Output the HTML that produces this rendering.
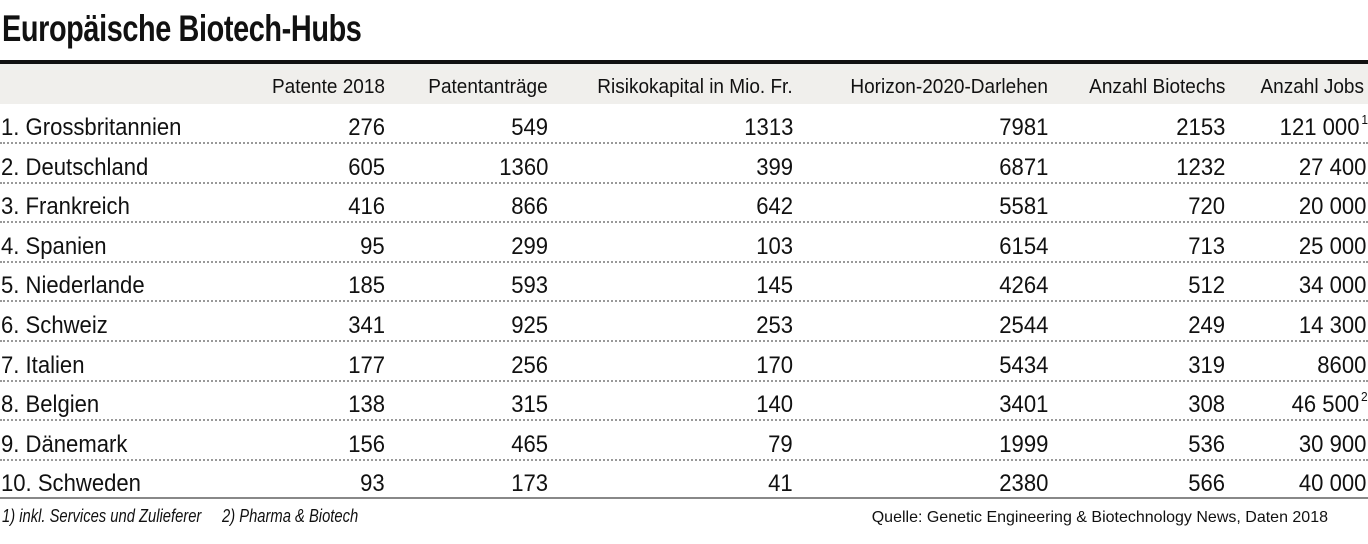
<!DOCTYPE html>
<html><head><meta charset="utf-8"><style>
body{margin:0;width:1368px;height:544px;background:#fff;font-family:"Liberation Sans",sans-serif;color:#111;position:relative;overflow:hidden}
.t{position:absolute;left:2px;top:8px;font-size:37px;font-weight:bold;transform:scaleX(0.78);transform-origin:left top;letter-spacing:-0.5px}
.bar{position:absolute;left:0;top:60px;width:1368px;height:4px;background:#111}
.hd{position:absolute;left:0;top:64px;width:1368px;height:40px;background:#f0efec}
.c{position:absolute;white-space:nowrap}
.h{font-size:20px;top:76px;transform:scaleX(0.95);transform-origin:right top}
.r{font-size:24px;transform:scaleX(0.92)}
.l{transform-origin:left top}
.rt{transform-origin:right top}
.dot{position:absolute;left:0;width:1368px;border-top:2px dotted #999}
.sol{position:absolute;left:0;top:497px;width:1368px;border-top:2px solid #888}
.fn{position:absolute;top:506px;font-size:18px;font-style:italic;transform:scaleX(0.82);transform-origin:left top}
.src{position:absolute;top:509px;right:40px;font-size:16px}
sup{font-size:13px;vertical-align:top;position:relative;top:-2px;margin-left:2px}
</style></head><body>
<div class="t">Europäische Biotech-Hubs</div>
<div class="bar"></div><div class="hd"></div>
<div id="g"></div>
<div class="sol"></div>
<div class="fn" style="left:2px">1) inkl. Services und Zulieferer</div>
<div class="fn" style="left:222px">2) Pharma &amp; Biotech</div>
<div class="src">Quelle: Genetic Engineering &amp; Biotechnology News, Daten 2018</div>
<script>
var R=[385,548,793,1048,1225,1364];
var H=["Patente 2018","Patentanträge","Risikokapital in Mio. Fr.","Horizon-2020-Darlehen","Anzahl Biotechs","Anzahl Jobs"];
var D=[["1. Grossbritannien",276,549,1313,7981,2153,"121 000<sup>1</sup>"],
["2. Deutschland",605,1360,399,6871,1232,"27 400"],
["3. Frankreich",416,866,642,5581,720,"20 000"],
["4. Spanien",95,299,103,6154,713,"25 000"],
["5. Niederlande",185,593,145,4264,512,"34 000"],
["6. Schweiz",341,925,253,2544,249,"14 300"],
["7. Italien",177,256,170,5434,319,"8600"],
["8. Belgien",138,315,140,3401,308,"46 500<sup>2</sup>"],
["9. Dänemark",156,465,79,1999,536,"30 900"],
["10. Schweden",93,173,41,2380,566,"40 000"]];
var s="";
H.forEach(function(h,i){s+='<div class="c h" style="right:'+(1368-R[i])+'px">'+h+'</div>';});
D.forEach(function(d,j){var top=114+j*39.6;
s+='<div class="c r l" style="left:1px;top:'+top+'px">'+d[0]+'</div>';
for(var i=1;i<7;i++){var rr=R[i-1];if(i==6&&String(d[6]).indexOf("sup")<0)rr=1366;
if(i==6&&String(d[6]).indexOf("sup")>=0)rr=1368;
s+='<div class="c r rt" style="right:'+(1368-rr)+'px;top:'+top+'px">'+d[i]+'</div>';}
if(j<9)s+='<div class="dot" style="top:'+(142+j*39.6)+'px"></div>';});
document.getElementById("g").innerHTML=s;
</script>
</body></html>
